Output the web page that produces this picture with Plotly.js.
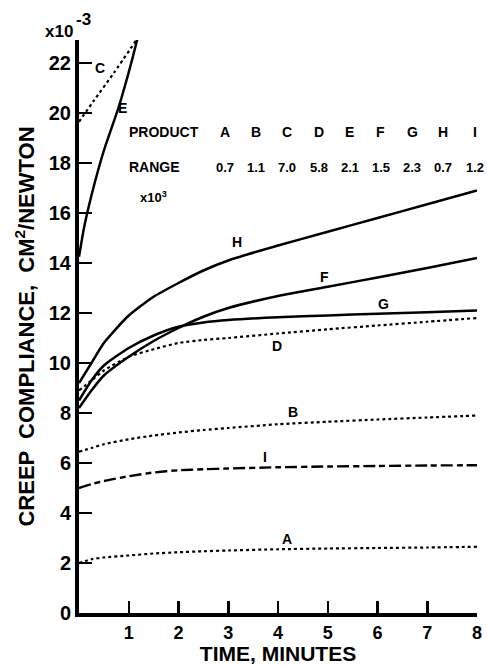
<!DOCTYPE html>
<html>
<head>
<meta charset="utf-8">
<script src="https://cdn.plot.ly/plotly-3.0.1.min.js"></script>
<style>
html,body{margin:0;padding:0;background:#fff;}
#chart{width:487px;height:665px;}
</style>
</head>
<body>
<div id="chart"></div>
<script>
// ---- data (creep compliance, x10^-3 cm^2/newton, vs time in minutes) ----
var timeStd = [0, 0.25, 0.5, 1, 1.5, 2, 2.5, 3, 4, 5, 6, 7, 8];
var compA = [2.0, 2.15, 2.22, 2.3, 2.38, 2.43, 2.47, 2.5, 2.55, 2.58, 2.6, 2.62, 2.65];
var compB = [6.45, 6.6, 6.75, 6.95, 7.1, 7.22, 7.32, 7.4, 7.55, 7.65, 7.74, 7.82, 7.9];
var compD = [8.9, 9.3, 9.7, 10.25, 10.55, 10.8, 10.92, 11.0, 11.18, 11.35, 11.5, 11.65, 11.8];
var compF = [8.2, 8.9, 9.5, 10.25, 10.88, 11.4, 11.85, 12.2, 12.68, 13.05, 13.42, 13.8, 14.2];
var compG = [8.5, 9.3, 9.9, 10.6, 11.1, 11.45, 11.62, 11.72, 11.83, 11.9, 11.97, 12.03, 12.1];
var compH = [9.2, 10.0, 10.8, 11.9, 12.65, 13.2, 13.7, 14.1, 14.7, 15.25, 15.8, 16.35, 16.9];
var compI = [5.0, 5.15, 5.28, 5.47, 5.62, 5.71, 5.75, 5.78, 5.83, 5.86, 5.88, 5.9, 5.91];
var timeC = [0, 0.3, 0.7, 1.16];
var compC = [19.65, 20.5, 21.6, 22.94];
var timeE = [0, 0.1, 0.25, 0.5, 0.8, 1.05, 1.17];
var compE = [14.25, 15.4, 16.7, 18.5, 20.25, 22.0, 22.94];

var products = ['A', 'B', 'C', 'D', 'E', 'F', 'G', 'H', 'I'];
var ranges = ['0.7', '1.1', '7.0', '5.8', '2.1', '1.5', '2.3', '0.7', '1.2'];
var xTickVals = [1, 2, 3, 4, 5, 6, 7, 8];
var yTickVals = [0, 2, 4, 6, 8, 10, 12, 14, 16, 18, 20, 22];

// ---- styling ----
var FONT = 'Liberation Sans, Arial, sans-serif';
function solid(name, x, y) {
  return {type: 'scatter', mode: 'lines', name: name, x: x, y: y,
    line: {color: '#000', width: 2.5, shape: 'spline', smoothing: 0.6}, hoverinfo: 'skip'};
}
function dotted(name, x, y) {
  return {type: 'scatter', mode: 'lines', name: name, x: x, y: y,
    line: {color: '#000', width: 2.2, dash: 'dot', shape: 'spline', smoothing: 0.6}, hoverinfo: 'skip'};
}
var traceI = solid('I', timeStd, compI);
traceI.line.dash = '12px,4px,6px,4px';
traceI.line.width = 2.4;

var traces = [
  dotted('A', timeStd, compA),
  dotted('B', timeStd, compB),
  dotted('C', timeC, compC),
  dotted('D', timeStd, compD),
  solid('E', timeE, compE),
  solid('F', timeStd, compF),
  solid('G', timeStd, compG),
  solid('H', timeStd, compH),
  traceI
];

// curve labels (layout positions)
var curveLabelPos = {
  C: [0.42, 21.8], E: [0.88, 20.2], H: [3.18, 14.85], F: [4.94, 13.45],
  G: [6.13, 12.35], D: [3.98, 10.7], B: [4.3, 8.05], I: [3.74, 6.25], A: [4.18, 2.95]
};
var annotations = [];
Object.keys(curveLabelPos).forEach(function (k) {
  annotations.push({x: curveLabelPos[k][0], y: curveLabelPos[k][1], xref: 'x', yref: 'y',
    text: k, showarrow: false, font: {family: FONT, size: 14, weight: 'bold', color: '#000'}});
});

// product / range table
var tblFont = {family: FONT, size: 14, weight: 'bold', color: '#000'};
var rowProduct = 19.23, rowRange = 17.83;
annotations.push({x: 0.965, y: rowProduct, xref: 'x', yref: 'y', xanchor: 'left',
  text: 'PRODUCT', showarrow: false, font: tblFont});
annotations.push({x: 0.965, y: rowRange, xref: 'x', yref: 'y', xanchor: 'left',
  text: 'RANGE', showarrow: false, font: tblFont});
annotations.push({x: 1.5, y: 16.65, xref: 'x', yref: 'y',
  text: 'x10<sup>3</sup>', showarrow: false, font: {family: FONT, size: 13, weight: 'bold', color: '#000'}});
products.forEach(function (p, i) {
  var cx = 2.93 + i * 0.628;
  annotations.push({x: cx, y: rowProduct, xref: 'x', yref: 'y', text: p,
    showarrow: false, font: tblFont});
  annotations.push({x: cx, y: rowRange, xref: 'x', yref: 'y', text: ranges[i],
    showarrow: false, font: {family: FONT, size: 13, weight: 'bold', color: '#000'}});
});

// multiplier on y axis
annotations.push({x: -0.01, y: 1.014, xref: 'paper', yref: 'paper', xanchor: 'right', yanchor: 'middle',
  text: 'x10', showarrow: false, font: {family: FONT, size: 17, weight: 'bold', color: '#000'}});
annotations.push({x: -0.012, y: 1.036, xref: 'paper', yref: 'paper', xanchor: 'left', yanchor: 'middle',
  text: '-3', showarrow: false, font: {family: FONT, size: 17, weight: 'bold', color: '#000'}});

var layout = {
  width: 487, height: 665,
  margin: {l: 79, r: 10, t: 40, b: 52, pad: 0},
  paper_bgcolor: '#fff', plot_bgcolor: '#fff',
  showlegend: false,
  font: {family: FONT, color: '#000'},
  xaxis: {
    range: [0, 8], showgrid: false, zeroline: false,
    showline: true, linewidth: 4, linecolor: '#000',
    ticks: 'inside', ticklen: 12, tickwidth: 2.5, tickcolor: '#000',
    tickvals: xTickVals, ticktext: xTickVals.map(String),
    tickfont: {family: FONT, size: 18, weight: 'bold', color: '#000'},
    title: {text: 'TIME, MINUTES', standoff: 14,
      font: {family: FONT, size: 21, weight: 'bold', color: '#000'}}
  },
  yaxis: {
    range: [0, 22.92], showgrid: false, zeroline: false,
    showline: true, linewidth: 4, linecolor: '#000',
    ticks: 'inside', ticklen: 13, tickwidth: 2.5, tickcolor: '#000',
    tickvals: yTickVals, ticktext: yTickVals.map(String),
    tickfont: {family: FONT, size: 20, weight: 'bold', color: '#000'},
    title: {text: 'CREEP  COMPLIANCE,  CM<sup>2</sup>/NEWTON', standoff: 9,
      font: {family: FONT, size: 22, weight: 'bold', color: '#000'}}
  },
  annotations: annotations
};

Plotly.newPlot('chart', traces, layout, {staticPlot: true, displayModeBar: false});
</script>
</body>
</html>
